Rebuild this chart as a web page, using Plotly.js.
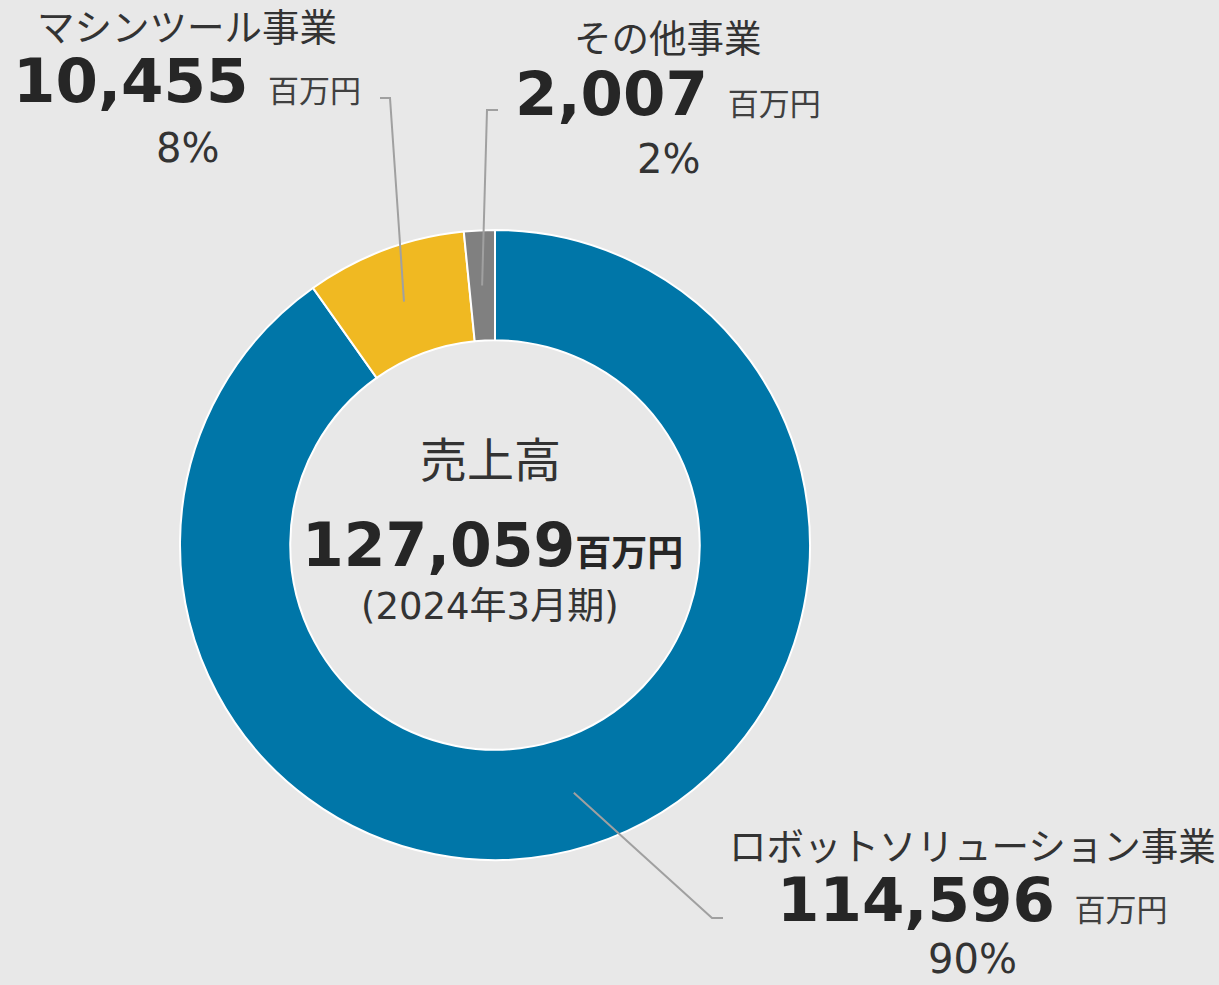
<!DOCTYPE html>
<html>
<head>
<meta charset="utf-8">
<script src="https://cdn.plot.ly/plotly-3.0.1.min.js"></script>
<style>html,body{margin:0;padding:0;background:#e8e8e8;}#chart{width:1219px;height:985px;}</style>
</head>
<body>
<div id="chart"></div>
<script>
// ---- data ----
const categories = ["ロボットソリューション事業", "マシンツール事業", "その他事業"];
const values = [114596, 10455, 2007];
const colors = ["#0076a8", "#f0b922", "#808080"];
const totalSales = 127059;
const totalLabel = "売上高";
const periodLabel = "(2024年3月期)";
const unit = "百万円";

// ---- layout helpers ----
const W = 1219, H = 985;
const px = x => x / W;
const py = y => 1 - y / H;
const cx = 495, cy = 545, R = 315, hole = 0.65;
const FONT = "DejaVu Sans, Noto Sans CJK JP, sans-serif";
const sum = values.reduce((a, b) => a + b, 0);
const fmt = v => v.toLocaleString("en-US");

// label blocks: centre x, y of name line, value line, pct line; leader elbow & end
const labelPos = [
  {x: 972, yName: 847, yVal: 899, yPct: 959, elbow: [712, 918], end: [723, 918]},
  {x: 187, yName: 28, yVal: 81, yPct: 148, elbow: [390, 98], end: [380, 98]},
  {x: 668, yName: 39, yVal: 93, yPct: 159, elbow: [487, 110], end: [498, 110]}
];

const annotations = [];
const shapes = [];
let cum = 0;
values.forEach((v, i) => {
  const p = labelPos[i];
  const pct = Math.round(v / sum * 100);
  annotations.push({x: px(p.x), y: py(p.yName), xref: "paper", yref: "paper", showarrow: false,
    xanchor: "center", yanchor: "middle", text: categories[i], font: {family: FONT, size: 37.5, color: "#333333"}});
  annotations.push({x: px(p.x), y: py(p.yVal), xref: "paper", yref: "paper", showarrow: false,
    xanchor: "center", yanchor: "middle",
    text: "<span style='font-size:61px;font-weight:bold;color:#262626'>" + fmt(v) + "</span>  " + unit,
    font: {family: FONT, size: 31, color: "#404040"}});
  annotations.push({x: px(p.x), y: py(p.yPct), xref: "paper", yref: "paper", showarrow: false,
    xanchor: "center", yanchor: "middle", borderpad: 0,
    text: pct + "%", font: {family: FONT, size: 40, color: "#333333"}});
  // leader line from slice middle
  const th = 2 * Math.PI * (cum + v / 2) / sum;
  const r = R * (1 + hole) / 2;
  const sx = cx + r * Math.sin(th), sy = cy - r * Math.cos(th);
  shapes.push({type: "path", xref: "paper", yref: "paper",
    path: `M ${px(sx)},${py(sy)} L ${px(p.elbow[0])},${py(p.elbow[1])} L ${px(p.end[0])},${py(p.end[1])}`,
    line: {color: "#a0a0a0", width: 2}});
  cum += v;
});

annotations.push({x: px(cx - 5), y: py(460), xref: "paper", yref: "paper", showarrow: false,
  xanchor: "center", yanchor: "middle", text: totalLabel, font: {family: FONT, size: 47, color: "#333333"}});
annotations.push({x: px(cx - 3), y: py(545), xref: "paper", yref: "paper", showarrow: false,
  xanchor: "center", yanchor: "middle",
  text: "<b>" + fmt(totalSales) + "</b><span style='font-size:36px;font-weight:bold'>" + unit + "</span>",
  font: {family: FONT, size: 60, color: "#262626"}});
annotations.push({x: px(cx - 5), y: py(606), xref: "paper", yref: "paper", showarrow: false,
  xanchor: "center", yanchor: "middle", text: periodLabel, font: {family: FONT, size: 37, color: "#333333"}});

const data = [{
  type: "pie",
  labels: categories,
  values: values,
  sort: false,
  direction: "clockwise",
  rotation: 0,
  hole: hole,
  textinfo: "none",
  hoverinfo: "label+value+percent",
  marker: {colors: colors, line: {color: "#ffffff", width: 2}},
  domain: {x: [px(cx - R), px(cx + R)], y: [py(cy + R), py(cy - R)]},
  showlegend: false
}];

const layout = {
  width: W, height: H,
  margin: {l: 0, r: 0, t: 0, b: 0},
  paper_bgcolor: "#e8e8e8",
  plot_bgcolor: "#e8e8e8",
  showlegend: false,
  annotations: annotations,
  shapes: shapes
};

Plotly.newPlot("chart", data, layout, {displayModeBar: false, staticPlot: true});
</script>
</body>
</html>
